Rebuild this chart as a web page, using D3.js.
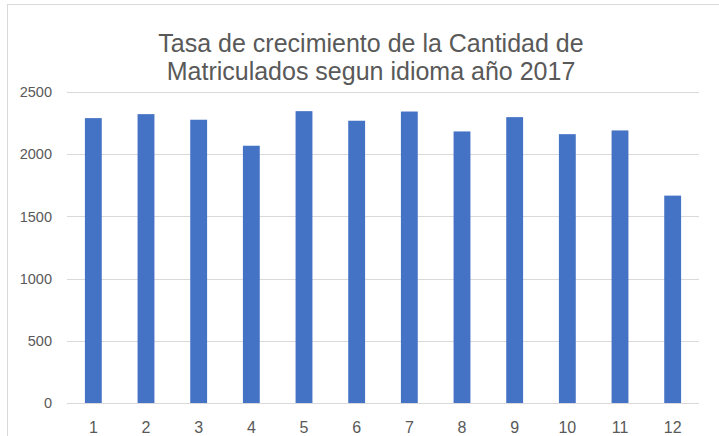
<!DOCTYPE html>
<html>
<head>
<meta charset="utf-8">
<script src="https://d3js.org/d3.v7.min.js"></script>
<style>
  body { margin: 0; background: #fff; }
  svg { display: block; font-family: "Liberation Sans", Arial, sans-serif; }
</style>
</head>
<body>
<div id="chart"></div>
<script>
// data
const months = ["1", "2", "3", "4", "5", "6", "7", "8", "9", "10", "11", "12"];
const matriculados = [2290, 2322, 2277, 2068, 2346, 2269, 2343, 2183, 2298, 2161, 2191, 1667];
const yTicks = [0, 500, 1000, 1500, 2000, 2500];
const titleLines = ["Tasa de crecimiento de la Cantidad de", "Matriculados segun idioma año 2017"];

const width = 719, height = 436;
const margin = { top: 92, right: 20, bottom: 33, left: 67 };

const svg = d3.select("#chart").append("svg")
    .attr("width", width)
    .attr("height", height);

// chart area border (runs off the right / bottom edge)
svg.append("rect")
    .attr("x", 7.5).attr("y", 4.5)
    .attr("width", width + 20).attr("height", height + 20)
    .attr("fill", "none")
    .attr("stroke", "#d9d9d9");

const x = d3.scaleBand()
    .domain(months)
    .range([margin.left, width - margin.right])
    .paddingInner(0.68)
    .paddingOuter(0.34);

const y = d3.scaleLinear()
    .domain([0, 2500])
    .range([height - margin.bottom, margin.top]);

// gridlines
svg.append("g")
    .selectAll("line")
    .data(yTicks)
    .join("line")
    .attr("x1", margin.left).attr("x2", width - margin.right)
    .attr("y1", d => Math.round(y(d)) + 0.5).attr("y2", d => Math.round(y(d)) + 0.5)
    .attr("stroke", "#d9d9d9")
    .attr("stroke-width", 1);

// bars
svg.append("g")
    .selectAll("rect")
    .data(matriculados)
    .join("rect")
    .attr("x", (d, i) => x(months[i]))
    .attr("y", d => y(d))
    .attr("width", x.bandwidth())
    .attr("height", d => y(0) - y(d))
    .attr("fill", "#4472c4");

// y axis labels
svg.append("g")
    .attr("text-anchor", "end")
    .selectAll("text")
    .data(yTicks)
    .join("text")
    .attr("x", 52)
    .attr("y", d => y(d))
    .attr("dy", "0.36em")
    .attr("fill", "#595959")
    .style("font-size", "14.5px")
    .text(d => d);

// x axis labels
svg.append("g")
    .attr("text-anchor", "middle")
    .selectAll("text")
    .data(months)
    .join("text")
    .attr("x", d => x(d) + x.bandwidth() / 2)
    .attr("y", 432.5)
    .attr("fill", "#595959")
    .style("font-size", "16px")
    .text(d => d);

// title
svg.append("g")
    .attr("text-anchor", "middle")
    .selectAll("text")
    .data(titleLines)
    .join("text")
    .attr("x", 371)
    .attr("y", (d, i) => 52 + i * 28)
    .attr("fill", "#595959")
    .style("font-size", "25px")
    .text(d => d);
</script>
</body>
</html>
